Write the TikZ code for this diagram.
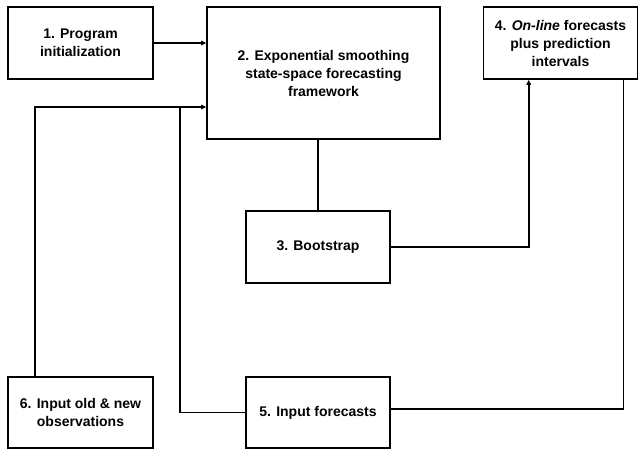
\documentclass[tikz,border=0pt]{standalone}
\usepackage{fontspec}
\setmainfont{Liberation Sans}
\usetikzlibrary{arrows.meta}
\tikzset{box/.style={draw, line width=1.6pt, align=center, inner sep=0pt,
    font=\fontsize{14}{18}\selectfont\bfseries},
  >={Triangle[length=5pt,width=4.5pt]}}

\begin{document}
\begin{tikzpicture}[x=1pt,y=-1pt,line width=1.6pt]
\useasboundingbox (0,0) rectangle (639,450);
\node(1) [box, minimum width=145pt, minimum height=72pt] at (80.5,43) {1. Program\\initialization};
\node(2) [box, minimum width=233pt, minimum height=132pt] at (323.5,73) {2. Exponential smoothing\\state-space forecasting\\framework};
\node(3) [box, minimum width=144pt, minimum height=72pt] at (318,247) {3. Bootstrap};
\node(4) [box, minimum width=154pt, minimum height=72pt] at (560.5,43) {4. \textit{On-line} forecasts\\plus prediction\\intervals};
\node(5) [box, minimum width=144pt, minimum height=71pt] at (318,412.5) {5. Input forecasts};
\node(6) [box, minimum width=145pt, minimum height=71pt] at (80.5,412.5) {6. Input old \& new\\observations};
\coordinate(j) at (180,107);
\draw[->] (1.east) to (1.east -| 2.west);
\draw[->] ([xshift=28pt]6.north west) |- (j) -- (j -| 2.west);
\draw (5.west) -| (j);
\draw (3.north) -- (3.north |- 2.south);
\draw[->] (3.east) -| ([xshift=46pt]4.south west);
\draw ([xshift=-15pt]4.south east) |- ([yshift=3.5pt]5.east);
\end{tikzpicture}
\end{document}
